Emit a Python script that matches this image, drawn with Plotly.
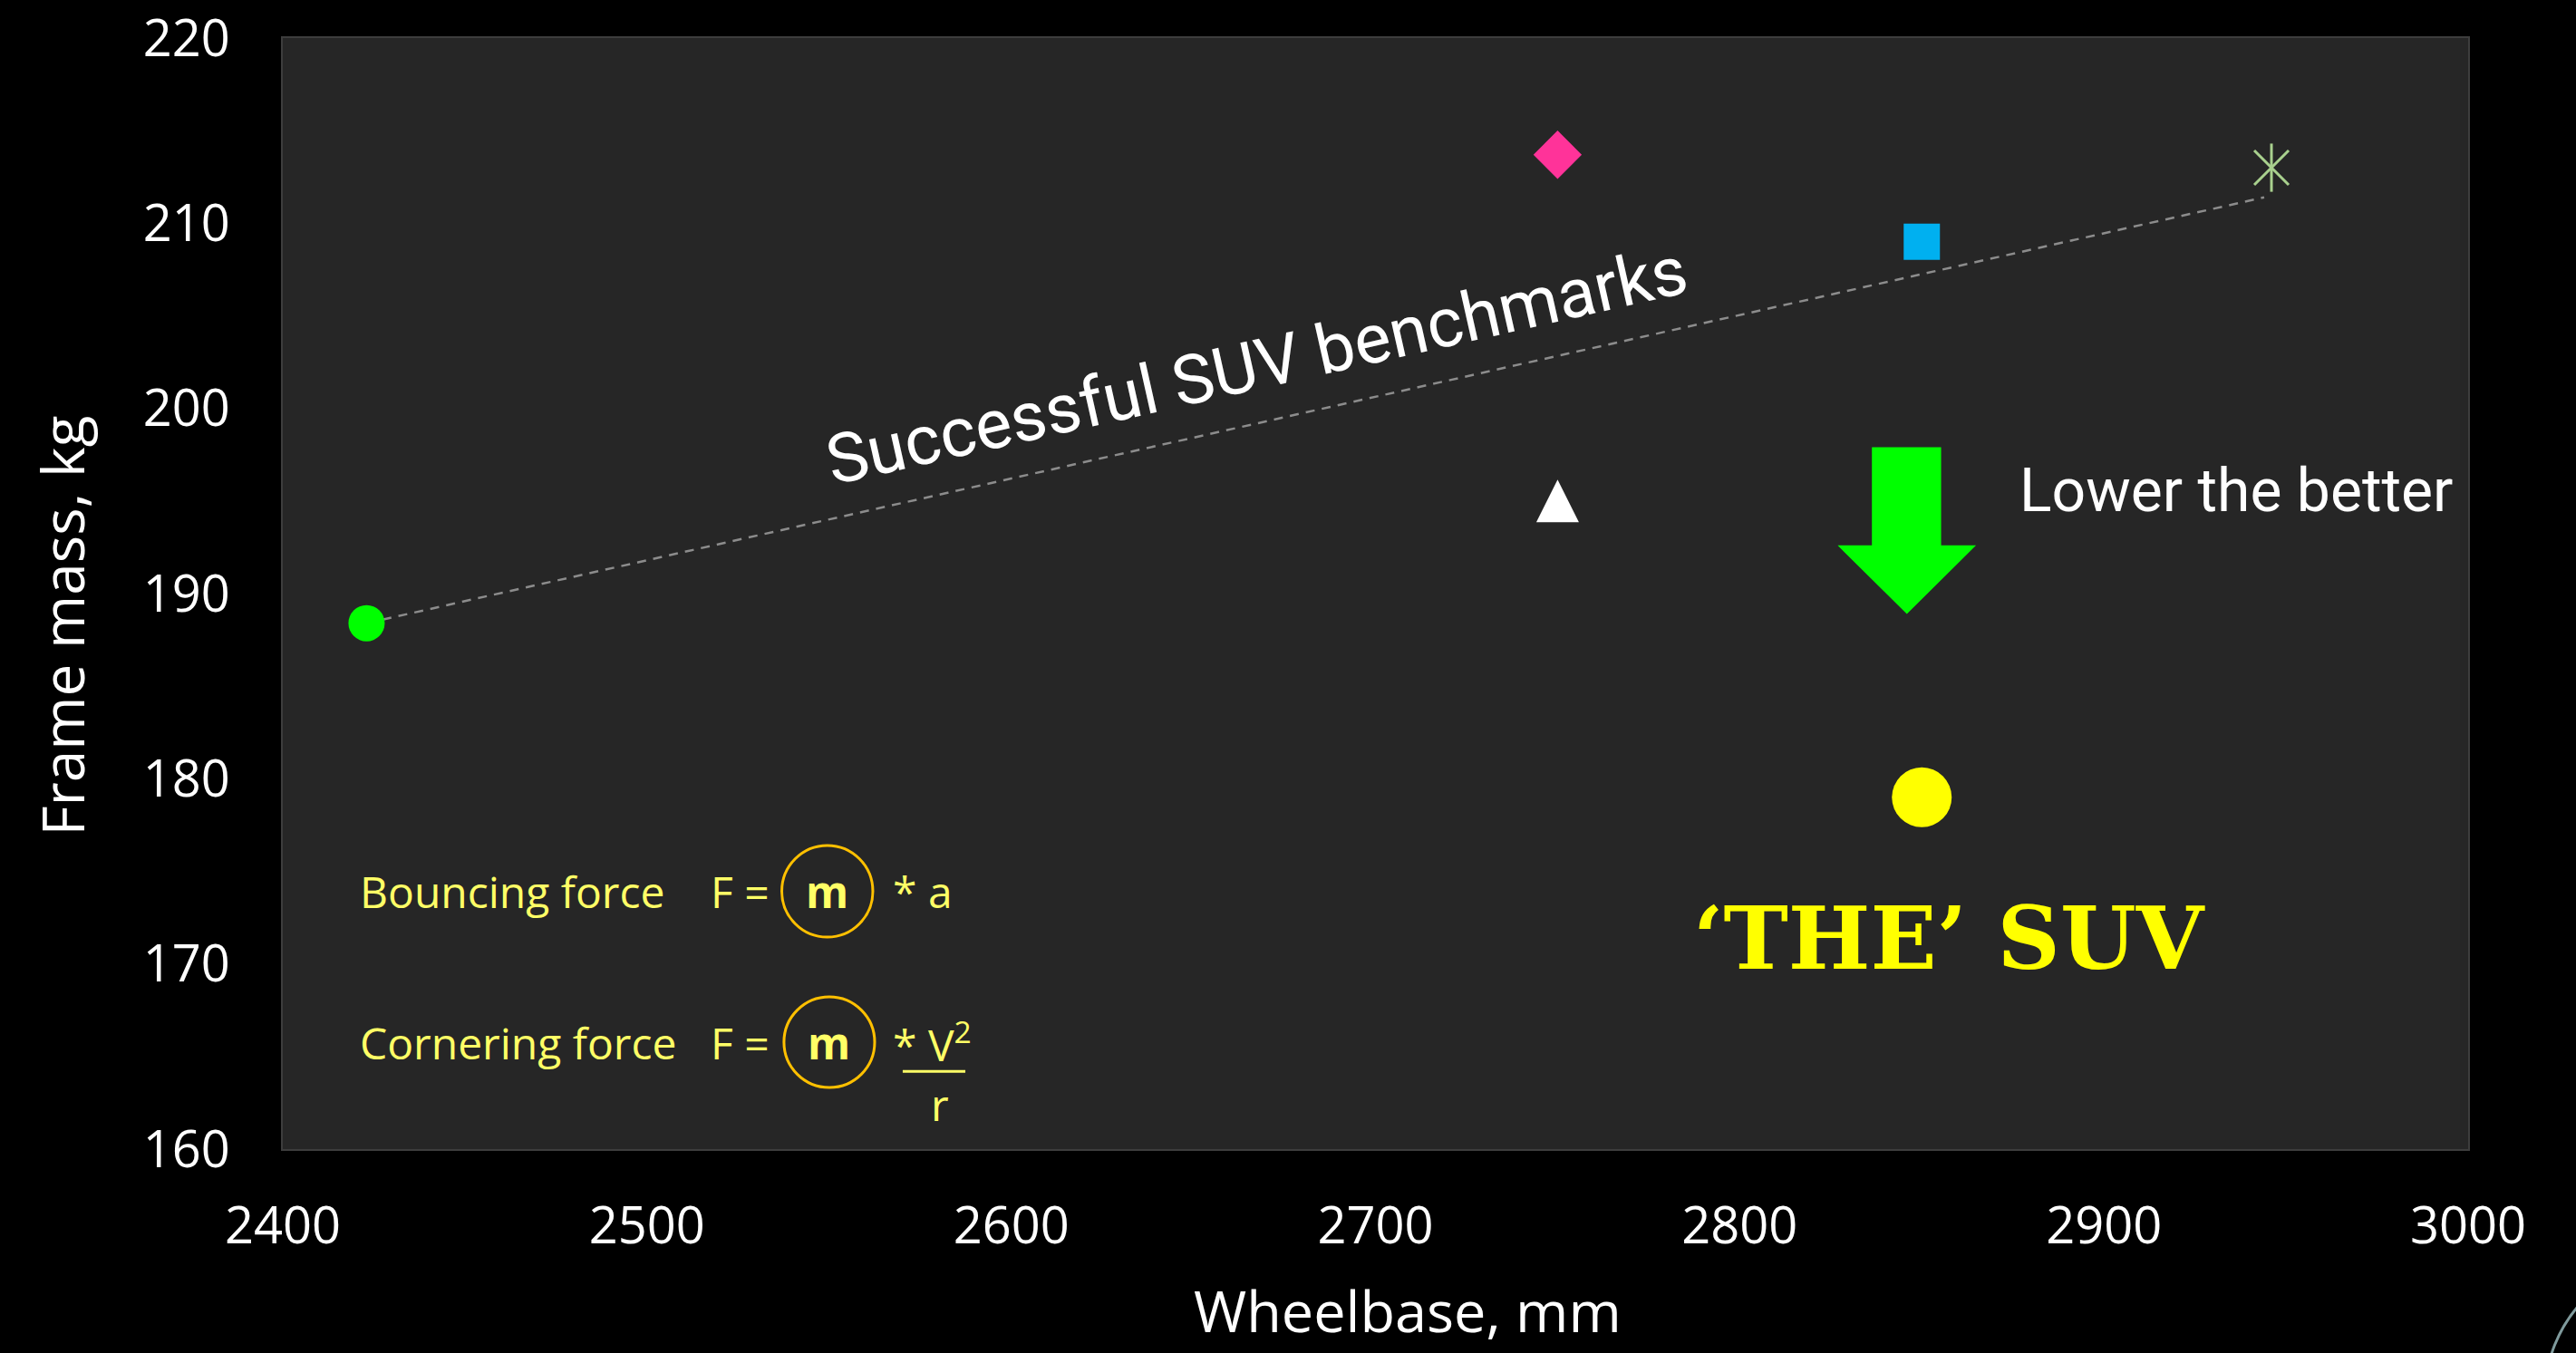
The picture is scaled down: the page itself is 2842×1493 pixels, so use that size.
import plotly.graph_objects as go

# ---------------- data ----------------
x_range = [2400, 3000]
y_range = [160, 220]
x_ticks = [2400, 2500, 2600, 2700, 2800, 2900, 3000]
y_ticks = [160, 170, 180, 190, 200, 210, 220]

circle_bm_x = [2423]
circle_bm_y = [188.4]
diamond_bm_x = [2750]
diamond_bm_y = [213.7]
triangle_bm_x = [2750]
triangle_bm_y = [195.0]
square_bm_x = [2850]
square_bm_y = [209.0]
star_bm_x = [2946]
star_bm_y = [213.0]
the_suv_x = [2850]
the_suv_y = [179.0]

trend_x = [2423, 2944]
trend_y = [188.4, 211.4]

# ---------------- figure ----------------
fig = go.Figure()

fig.add_trace(go.Scatter(x=trend_x, y=trend_y, mode="lines",
                         line=dict(color="#8c8c8c", width=2.5, dash="10px,8px"),
                         hoverinfo="skip", name="Trend"))

fig.add_trace(go.Scatter(x=circle_bm_x, y=circle_bm_y, mode="markers", name="Benchmark 1",
                         marker=dict(symbol="circle", size=40, color="#00ff00", line=dict(width=0))))
fig.add_trace(go.Scatter(x=diamond_bm_x, y=diamond_bm_y, mode="markers", name="Benchmark 2",
                         marker=dict(symbol="diamond", size=41, color="#ff3399", line=dict(width=0))))
fig.add_trace(go.Scatter(x=triangle_bm_x, y=triangle_bm_y, mode="markers", name="Benchmark 3",
                         marker=dict(symbol="arrow-down", angle=180, standoff=23.5, size=47,
                                     color="#ffffff", line=dict(width=0))))
fig.add_trace(go.Scatter(x=square_bm_x, y=square_bm_y, mode="markers", name="Benchmark 4",
                         marker=dict(symbol="square", size=40, color="#00b0f0", line=dict(width=0))))
fig.add_trace(go.Scatter(x=star_bm_x, y=star_bm_y, mode="markers", name="Benchmark 5",
                         marker=dict(symbol="x-thin-open", size=38, color="#a9d18e",
                                     line=dict(width=3, color="#a9d18e"))))
fig.add_trace(go.Scatter(x=star_bm_x, y=star_bm_y, mode="markers", name="Benchmark 5",
                         marker=dict(symbol="line-ns-open", size=38, color="#a9d18e",
                                     line=dict(width=3, color="#a9d18e"))))
fig.add_trace(go.Scatter(x=the_suv_x, y=the_suv_y, mode="markers", name="'THE' SUV",
                         marker=dict(symbol="circle", size=66, color="#ffff00", line=dict(width=0))))

# ---------------- decorations ----------------
shapes = []
# green block arrow "lower the better"
shapes.append(dict(type="path", xref="x", yref="y",
                   path="M 2836.3,197.9 L 2855.3,197.9 L 2855.3,192.6 L 2864.9,192.6 "
                        "L 2845.9,188.9 L 2826.9,192.6 L 2836.3,192.6 Z",
                   fillcolor="#00ff00", line=dict(width=0)))
# circles around m
shapes.append(dict(type="circle", xref="x", yref="y", x0=2537.0, x1=2562.0, y0=171.45, y1=176.4,
                   line=dict(color="#ffc000", width=3)))
shapes.append(dict(type="circle", xref="x", yref="y", x0=2537.6, x1=2562.5, y0=163.33, y1=168.22,
                   line=dict(color="#ffc000", width=3)))
# fraction bar
shapes.append(dict(type="line", xref="x", yref="y", x0=2570.2, x1=2587.4, y0=164.2, y1=164.2,
                   line=dict(color="#ffff66", width=3)))
# decorative arc at bottom-right corner
shapes.append(dict(type="circle", xref="paper", yref="paper", x0=1.0352, x1=1.1613,
                   y0=-0.3458, y1=-0.0979, line=dict(color="#7f9a9c", width=3)))

fy = "#ffff66"
ffam = "Open Sans"
fsz = 48
ann = []
# axis titles
ann.append(dict(x=-0.1008, y=0.471, xref="paper", yref="paper", text="Frame mass, kg",
                textangle=-90, showarrow=False, xanchor="center", yanchor="middle",
                font=dict(family=ffam, size=64, color="#ffffff")))
ann.append(dict(x=0.5147, y=-0.145, xref="paper", yref="paper", text="Wheelbase, mm",
                showarrow=False, xanchor="center", yanchor="middle",
                font=dict(family=ffam, size=63, color="#ffffff")))

ann.append(dict(x=2667.5, y=202.35, xref="x", yref="y", text="Successful SUV benchmarks",
                textangle=-12.7, showarrow=False, xanchor="center", yanchor="middle",
                font=dict(family="Roboto", size=76, color="#ffffff")))
ann.append(dict(x=2876.2, y=195.55, xref="x", yref="y", text="Lower the better",
                showarrow=False, xanchor="left", yanchor="middle",
                font=dict(family="Roboto", size=66, color="#ffffff")))
ann.append(dict(x=2857.5, y=171.4, xref="x", yref="y", text="\u2018THE\u2019 SUV",
                showarrow=False, xanchor="center", yanchor="middle",
                font=dict(family="DejaVu Serif", size=96, color="#ffff00", weight="bold")))
# formulas
for ytxt, label in [(173.9, "Bouncing force"), (165.77, "Cornering force")]:
    ann.append(dict(x=2420.6, y=ytxt, xref="x", yref="y", text=label, showarrow=False,
                    xanchor="left", yanchor="middle", font=dict(family=ffam, size=fsz, color=fy)))
    ann.append(dict(x=2517.0, y=ytxt, xref="x", yref="y", text="F =", showarrow=False,
                    xanchor="left", yanchor="middle", font=dict(family=ffam, size=fsz, color=fy)))
ann.append(dict(x=2549.5, y=173.9, xref="x", yref="y", text="<b>m</b>", showarrow=False,
                xanchor="center", yanchor="middle", font=dict(family=ffam, size=fsz, color=fy)))
ann.append(dict(x=2550.0, y=165.77, xref="x", yref="y", text="<b>m</b>", showarrow=False,
                xanchor="center", yanchor="middle", font=dict(family=ffam, size=fsz, color=fy)))
ann.append(dict(x=2567.0, y=173.9, xref="x", yref="y", text="* a", showarrow=False,
                xanchor="left", yanchor="middle", font=dict(family=ffam, size=fsz, color=fy)))
ann.append(dict(x=2567.0, y=165.77, xref="x", yref="y", text="* V<sup>2</sup>", showarrow=False,
                xanchor="left", yanchor="middle", font=dict(family=ffam, size=fsz, color=fy)))
ann.append(dict(x=2580.3, y=162.4, xref="x", yref="y", text="r", showarrow=False,
                xanchor="center", yanchor="middle", font=dict(family=ffam, size=fsz, color=fy)))

fig.update_layout(
    width=2842, height=1493,
    template="none",
    paper_bgcolor="#000000",
    plot_bgcolor="#262626",
    margin=dict(l=312, r=119, t=42, b=225),
    showlegend=False,
    shapes=shapes,
    annotations=ann,
    xaxis=dict(range=x_range, tickvals=x_ticks, ticktext=[str(v) for v in x_ticks],
               showgrid=False, zeroline=False, showline=True, mirror=True,
               linecolor="#3d3d3d", linewidth=2, ticks="outside", ticklen=35,
               tickcolor="rgba(0,0,0,0)",
               tickfont=dict(family=ffam, size=56, color="#ffffff")),
    yaxis=dict(range=y_range, tickvals=y_ticks, ticktext=[str(v) for v in y_ticks],
               showgrid=False, zeroline=False, showline=True, mirror=True,
               linecolor="#3d3d3d", linewidth=2, ticks="outside", ticklen=45,
               tickcolor="rgba(0,0,0,0)",
               tickfont=dict(family=ffam, size=56, color="#ffffff")),
)

fig.write_html("out.html",
               config={"displayModeBar": False},
               post_script="document.body.style.margin='0';document.body.style.background='#000';"
                           "document.body.style.overflow='hidden';")
